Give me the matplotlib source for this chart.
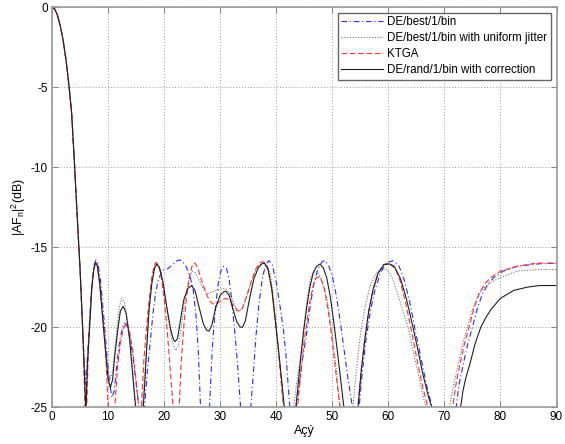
import numpy as np
import matplotlib
matplotlib.use("Agg")
import matplotlib.pyplot as plt

plt.rcParams["font.family"] = ["Liberation Sans", "DejaVu Sans"]
plt.rcParams["mathtext.default"] = "regular"
plt.rcParams["axes.unicode_minus"] = False

# main lobe, common to all four patterns
main_x = [0, 0.5, 1, 1.5, 2, 2.5, 3, 3.5, 4, 4.5, 5, 5.5]
main_y = [0, -0.13, -0.53, -1.2, -2.1, -3.3, -4.8, -6.6, -9.7, -13.1, -16.3, -20.3]

# DE/best/1/bin
blue_pts = [
    (5.95, -23.6), (6.2, -22.5), (6.5, -20.8), (7.0, -17.9), (7.5, -16.1), (7.85, -15.8),
    (8.2, -16.0), (8.7, -17.2), (9.2, -19.2), (9.7, -21.3), (10.2, -23.3), (10.7, -24.4),
    (11.1, -24.0), (11.6, -22.2), (12.1, -20.8), (12.6, -20.0), (13.0, -19.75), (13.5, -20.0),
    (14.0, -20.9), (14.4, -21.7), (15.0, -23.5), (15.6, -25.2), (16.0, -27), (16.5, -25.0),
    (17.0, -22.8), (17.4, -21.4), (18.0, -19.2), (18.5, -17.8), (19.0, -17.0), (19.5, -16.6),
    (20.0, -16.4), (20.7, -16.35), (21.5, -16.1), (22.3, -15.85), (22.8, -15.8), (23.3, -15.9),
    (23.9, -16.2), (24.6, -16.8), (25.2, -17.7), (25.7, -19.3), (26.1, -21.5), (26.5, -25.0),
    (27.2, -30), (27.7, -27), (28.1, -25.0), (28.6, -21.3), (29.1, -19.0), (29.6, -17.4),
    (30.1, -16.5), (30.6, -16.2), (31.1, -16.3), (31.6, -17.0), (32.1, -18.4), (32.6, -20.3),
    (33.1, -22.3), (33.6, -24.8), (34.5, -30), (35.4, -25.3), (35.9, -23.0), (36.4, -20.5),
    (36.9, -18.6), (37.5, -17.0), (38.1, -16.1), (38.7, -15.85), (39.3, -16.1), (40.0, -17.2),
    (40.6, -18.5), (41.3, -20.2), (41.8, -22.0), (42.2, -24.0), (42.5, -25.3), (43.0, -28),
    (43.4, -25.5), (44.0, -23.9), (44.7, -22.0), (45.5, -20.2), (46.1, -18.6), (46.7, -17.3),
    (47.4, -16.4), (48.2, -15.9), (48.7, -15.85), (49.3, -16.1), (50.0, -16.8), (50.7, -18.0),
    (51.4, -19.6), (52.1, -21.4), (52.8, -23.2), (53.5, -24.8), (54.1, -26.5), (54.8, -25.0),
    (55.3, -23.0), (56.0, -20.8), (56.8, -19.0), (57.6, -17.7), (58.6, -16.6), (59.6, -16.0),
    (60.8, -15.85), (61.8, -16.1), (62.8, -17.0), (63.8, -18.4), (64.8, -20.2), (65.8, -21.9),
    (66.8, -23.6), (67.6, -24.7), (68.3, -25.5), (70.0, -30), (72.1, -25.0), (72.6, -23.6),
    (73.5, -22.1), (74.2, -21.0), (75.0, -20.0), (75.9, -18.8), (76.8, -17.9), (77.8, -17.3),
    (78.8, -16.9), (80.5, -16.5), (83.0, -16.2), (86.5, -16.05), (90.0, -16.0),
]

# DE/best/1/bin with uniform jitter
gray_pts = [
    (5.9, -23.8), (6.05, -24.8), (6.3, -22.5), (6.7, -20.0), (7.1, -17.6), (7.45, -16.4),
    (7.8, -16.0), (8.1, -16.1), (8.5, -17.1), (9.0, -19.1), (9.5, -21.0), (10.0, -22.7),
    (10.4, -23.2), (10.8, -22.8), (11.2, -21.4), (11.7, -19.7), (12.0, -18.8), (12.4, -18.2),
    (12.9, -18.4), (13.5, -19.6), (14.1, -21.5), (14.6, -23.5), (15.0, -25.2), (15.6, -28),
    (16.1, -25.3), (16.5, -23.3), (16.9, -21.0), (17.3, -18.9), (17.8, -17.2), (18.3, -16.3),
    (18.7, -16.05), (19.2, -16.3), (19.8, -17.2), (20.5, -18.9), (21.2, -20.5), (21.7, -21.2),
    (22.1, -21.45), (22.5, -21.2), (23.0, -20.2), (23.7, -18.3), (24.4, -17.0), (25.0, -16.5),
    (25.6, -16.6), (26.3, -17.1), (27.0, -17.6), (27.8, -17.9), (28.6, -17.8), (29.4, -17.7),
    (30.2, -17.6), (31.0, -17.6), (31.7, -17.9), (32.4, -18.5), (33.0, -18.9), (33.5, -19.0),
    (34.0, -18.8), (34.7, -18.1), (35.5, -17.2), (36.3, -16.5), (37.1, -16.1), (37.8, -16.0),
    (38.4, -16.2), (38.9, -16.6), (39.4, -17.8), (39.8, -19.3), (40.5, -21.8), (41.2, -24.5),
    (41.6, -26), (42.3, -28), (43.1, -25.0), (43.6, -23.6), (44.1, -22.4), (44.6, -21.2),
    (45.1, -19.5), (45.5, -18.3), (46.0, -17.2), (46.5, -16.6), (47.0, -16.5), (47.5, -16.6),
    (48.1, -17.1), (48.7, -17.8), (49.3, -18.7), (50.0, -20.5), (50.8, -22.9), (51.3, -25.0),
    (52.1, -28), (53.0, -27), (53.7, -25.0), (54.2, -23.0), (55.0, -20.5), (55.8, -18.8),
    (56.7, -17.5), (57.7, -16.7), (58.6, -16.4), (59.4, -16.35), (60.2, -16.6), (61.0, -17.2),
    (62.0, -18.3), (62.8, -19.2), (63.5, -20.0), (64.5, -21.6), (65.5, -23.2), (66.4, -24.6),
    (67.0, -25.3), (68.5, -29), (70.9, -25.0), (71.2, -24.4), (71.9, -23.2), (72.6, -22.1),
    (73.3, -21.0), (74.1, -20.0), (75.1, -18.8), (76.2, -17.9), (77.2, -17.5), (78.3, -17.2),
    (80.0, -16.9), (82.9, -16.5), (86.5, -16.4), (90.0, -16.4),
]

# KTGA
red_pts = [
    (5.85, -24.5), (6.0, -28), (6.2, -25), (6.5, -21.2), (7.0, -17.9), (7.4, -16.4),
    (7.75, -15.95), (8.05, -16.05), (8.5, -17.3), (9.0, -19.0), (9.4, -20.4), (9.8, -23.3),
    (10.05, -25.3), (10.6, -29), (11.2, -25.0), (11.7, -22.5), (12.2, -21.0), (12.7, -20.1),
    (13.3, -19.7), (13.8, -20.2), (14.4, -21.4), (15.0, -23.3), (15.5, -25.2), (15.7, -27),
    (15.95, -25.0), (16.4, -22.0), (16.8, -20.3), (17.3, -18.4), (17.8, -16.9), (18.2, -16.15),
    (18.55, -15.95), (19.0, -16.1), (19.5, -16.9), (20.0, -18.2), (20.5, -20.0), (21.0, -22.2),
    (21.6, -25.0), (22.2, -28.5), (22.7, -25.0), (23.0, -22.5), (23.5, -20.0), (24.0, -18.1),
    (24.6, -16.7), (25.1, -16.05), (25.5, -16.0), (26.0, -16.3), (26.8, -17.2), (27.5, -17.9),
    (28.2, -18.4), (29.0, -18.6), (29.6, -18.5), (30.3, -18.3), (31.0, -18.2), (31.6, -18.3),
    (32.3, -18.6), (33.0, -18.95), (33.5, -19.0), (34.0, -18.8), (34.8, -18.0), (35.5, -17.2),
    (36.3, -16.4), (37.0, -16.0), (37.6, -15.9), (38.0, -16.0), (38.6, -16.5), (39.3, -17.8),
    (39.9, -19.7), (40.5, -21.9), (41.0, -23.9), (41.4, -25.3), (42.4, -29), (43.3, -27),
    (43.8, -25.0), (44.4, -22.8), (45.0, -20.8), (45.5, -19.6), (46.0, -18.4), (46.6, -17.4),
    (47.1, -16.95), (47.5, -16.85), (48.0, -17.0), (48.6, -17.6), (49.2, -18.8), (49.9, -20.6),
    (50.5, -22.4), (51.0, -23.9), (51.5, -25.2), (52.6, -29), (53.8, -27), (54.5, -25.2),
    (55.1, -22.9), (55.7, -21.0), (56.4, -19.2), (57.2, -17.8), (58.1, -16.7), (59.1, -16.1),
    (60.1, -16.0), (61.1, -16.2), (62.1, -17.1), (63.1, -18.5), (64.1, -20.2), (65.1, -22.0),
    (66.1, -23.7), (66.9, -24.8), (67.6, -25.6), (69.5, -30), (71.5, -25.0), (72.0, -23.7),
    (72.9, -22.1), (73.6, -21.0), (74.4, -20.0), (75.3, -18.8), (76.2, -17.9), (77.2, -17.3),
    (78.3, -16.9), (80.0, -16.5), (82.9, -16.2), (86.5, -16.0), (90.0, -16.0),
]

# DE/rand/1/bin with correction
black_pts = [
    (5.85, -23.5), (6.05, -25.4), (6.3, -22.5), (6.7, -20.0), (7.1, -17.6), (7.45, -16.4),
    (7.75, -16.0), (8.05, -16.1), (8.5, -17.2), (9.0, -19.3), (9.5, -21.3), (10.0, -23.2),
    (10.4, -23.8), (10.8, -23.3), (11.2, -21.8), (11.8, -20.0), (12.2, -19.0), (12.7, -18.7),
    (13.2, -19.1), (13.8, -20.6), (14.3, -22.6), (14.7, -24.2), (15.1, -25.6), (15.6, -28),
    (16.2, -25.5), (16.5, -23.8), (16.9, -21.3), (17.3, -19.0), (17.8, -17.3), (18.3, -16.3),
    (18.7, -16.05), (19.2, -16.3), (19.8, -17.2), (20.5, -18.8), (21.2, -20.2), (21.7, -20.8),
    (22.0, -20.9), (22.4, -20.7), (22.9, -19.6), (23.5, -18.3), (24.2, -17.6), (24.9, -17.4),
    (25.5, -17.7), (26.2, -18.7), (27.0, -19.8), (27.6, -20.2), (28.0, -20.25), (28.5, -19.9),
    (29.2, -18.8), (30.0, -18.0), (30.6, -17.8), (31.0, -17.75), (31.6, -18.0), (32.3, -18.9),
    (33.0, -19.7), (33.6, -20.0), (34.0, -20.0), (34.5, -19.6), (35.2, -18.3), (36.0, -17.0),
    (36.8, -16.3), (37.4, -16.05), (37.9, -16.0), (38.5, -16.3), (39.2, -17.6), (39.8, -19.5),
    (40.4, -21.4), (41.0, -23.4), (41.5, -25.2), (42.4, -29), (43.4, -25.3), (43.8, -24.0),
    (44.4, -21.8), (44.9, -20.2), (45.5, -18.6), (46.0, -17.5), (46.6, -16.6), (47.2, -16.2),
    (47.8, -16.06), (48.4, -16.3), (49.0, -16.9), (49.6, -18.0), (50.2, -19.5), (50.8, -21.2),
    (51.4, -23.0), (52.0, -24.8), (52.6, -26.5), (53.5, -29), (54.6, -25.0), (55.2, -22.6),
    (55.8, -20.8), (56.5, -19.0), (57.3, -17.6), (58.2, -16.6), (59.2, -16.1), (60.2, -16.05),
    (61.2, -16.3), (62.2, -17.0), (63.2, -18.2), (64.2, -19.7), (65.2, -21.3), (66.2, -23.0),
    (67.2, -24.4), (68.2, -25.5), (70.5, -30), (72.9, -25.0), (73.3, -24.0), (73.8, -23.2),
    (74.7, -22.1), (75.5, -21.0), (76.5, -20.0), (77.4, -19.4), (78.3, -18.9), (80.0, -18.2),
    (82.4, -17.7), (84.8, -17.5), (87.0, -17.4), (90.0, -17.4),
]

labels = ["DE/best/1/bin", "DE/best/1/bin with uniform jitter", "KTGA",
          "DE/rand/1/bin with correction"]


def series(pts):
    xs, ys = zip(*pts)
    return np.array(main_x + list(xs)), np.array(main_y + list(ys))


fig = plt.figure(figsize=(5.65, 4.44), dpi=100)
ax = fig.add_axes([0.092, 0.083, 0.893, 0.901])

styles = [
    dict(color="#2a2aff", ls=(0, (5, 2.5, 1, 2.5)), lw=0.8),
    dict(color="#707070", ls=(0, (1, 1.5)), lw=0.8),
    dict(color="#ff3030", ls=(0, (5, 2.5)), lw=0.8),
    dict(color="#202020", ls="-", lw=0.8),
]
for pts, lab, st in zip([blue_pts, gray_pts, red_pts, black_pts], labels, styles):
    x, y = series(pts)
    ax.plot(x, y, label=lab, **st)

ax.set_xlim(0, 90)
ax.set_ylim(-25, 0)
ax.set_xticks(np.arange(0, 91, 10))
ax.set_yticks(np.arange(-25, 1, 5))
ax.grid(True, ls=(0, (1, 2)), color="#999999", lw=0.7)
ax.tick_params(direction="in", top=True, right=True, length=4, labelsize=8.5,
               color="#888888", pad=3)
for sp in ax.spines.values():
    sp.set_color("#999999")
    sp.set_linewidth(1.2)

ax.set_xlabel("Açý", fontsize=9, labelpad=1)
ax.set_ylabel("|AF$_n$|$^2$(dB)", fontsize=9, labelpad=2)

leg = ax.legend(loc="upper right", fontsize=8.3, fancybox=False, framealpha=1,
                edgecolor="#666666", borderaxespad=0.5, handlelength=3.6,
                labelspacing=0.35, borderpad=0.3, handletextpad=0.4)
leg.get_frame().set_linewidth(1.0)

fig.savefig("out.png", dpi=100)
